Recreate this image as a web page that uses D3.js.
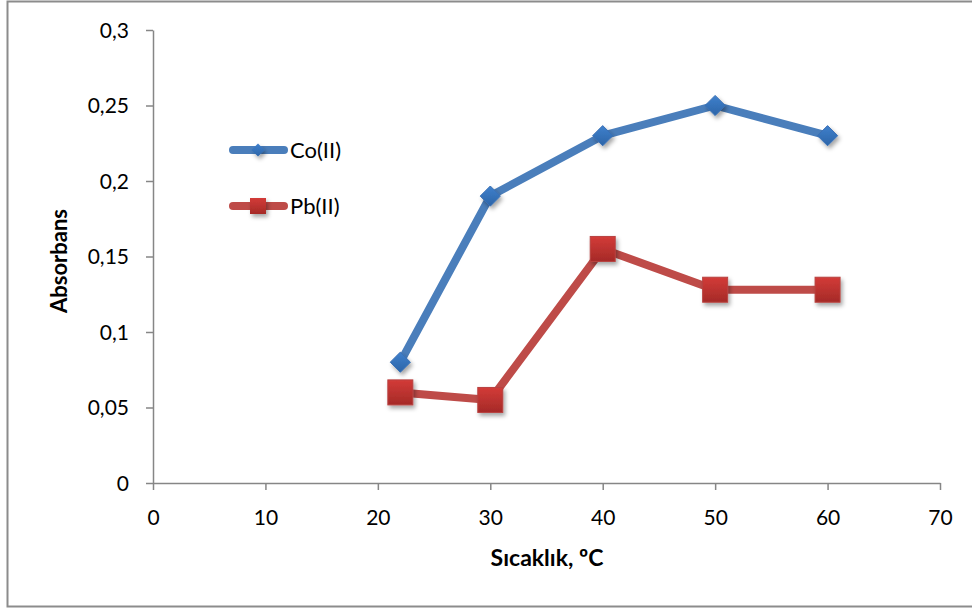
<!DOCTYPE html>
<html><head><meta charset="utf-8">
<script src="https://cdn.jsdelivr.net/npm/d3@7"></script>
<style>body{margin:0;background:#fff}svg{display:block}text{font-family:Lato,"Open Sans",sans-serif;fill:#000}</style>
</head><body><svg id="c" width="972" height="610"></svg>
<script>
const temps = [22, 30, 40, 50, 60];
const coValues = [0.08, 0.19, 0.23, 0.25, 0.23];
const pbValues = [0.06, 0.055, 0.155, 0.128, 0.128];
const xTicks = [0, 10, 20, 30, 40, 50, 60, 70];
const yTicks = [0, 0.05, 0.1, 0.15, 0.2, 0.25, 0.3];
const seriesNames = ["Co(II)", "Pb(II)"];

const svg = d3.select("#c");
const defs = svg.append("defs");
const f = defs.append("filter").attr("id","sh").attr("x","-50%").attr("y","-50%").attr("width","200%").attr("height","200%");
f.append("feDropShadow").attr("dx",2).attr("dy",3).attr("stdDeviation",2).attr("flood-color","#000").attr("flood-opacity",0.35);
const gR = defs.append("linearGradient").attr("id","gr").attr("x1",0).attr("y1",0).attr("x2",0).attr("y2",1);
gR.append("stop").attr("offset","0%").attr("stop-color","#d33b38");
gR.append("stop").attr("offset","100%").attr("stop-color","#a52a27");
const gB = defs.append("linearGradient").attr("id","gb").attr("x1",0).attr("y1",0).attr("x2",0).attr("y2",1);
gB.append("stop").attr("offset","0%").attr("stop-color","#3f80cc");
gB.append("stop").attr("offset","100%").attr("stop-color","#2c65a8");

// outer border
svg.append("rect").attr("x",7.5).attr("y",1.5).attr("width",975).attr("height",605).attr("fill","none").attr("stroke","#8c8c8c").attr("stroke-width",2);

const x = d3.scaleLinear().domain([0,70]).range([153,940]);
const y = d3.scaleLinear().domain([0,0.3]).range([483,30]);
const fmt = d => String(d).replace(".", ",");

const xa = svg.append("g").attr("transform","translate(0,483)")
  .call(d3.axisBottom(x).tickValues(xTicks).tickSize(7).tickSizeOuter(0).tickPadding(20).tickFormat(fmt));
const ya = svg.append("g").attr("transform","translate(153,0)")
  .call(d3.axisLeft(y).tickValues(yTicks).tickSize(7).tickSizeOuter(0).tickPadding(17).tickFormat(fmt));
[xa, ya].forEach(a => {
  a.selectAll("path,line").attr("stroke","#868686").attr("stroke-width",1.5);
  a.selectAll("text").attr("font-size",21).attr("font-family","Lato,'Open Sans',sans-serif").attr("fill","#000");
});
ya.selectAll("text").attr("dy","0.35em");

svg.append("text").attr("x",547).attr("y",566).attr("text-anchor","middle").attr("font-size",23).attr("font-weight","bold").text("Sıcaklık, ºC");
svg.append("text").attr("transform","translate(67,261) rotate(-90)").attr("text-anchor","middle").attr("font-size",22).attr("font-weight","bold").text("Absorbans");

const line = d3.line().x(d => x(d[0])).y(d => y(d[1]));
const coData = temps.map((t,i) => [t, coValues[i]]);
const pbData = temps.map((t,i) => [t, pbValues[i]]);

svg.append("path").datum(coData).attr("d",line).attr("fill","none").attr("stroke","#4a7ebb").attr("stroke-width",8).attr("stroke-linejoin","round").attr("stroke-linecap","round");
svg.append("path").datum(pbData).attr("d",line).attr("fill","none").attr("stroke","#be4b48").attr("stroke-width",8).attr("stroke-linejoin","round").attr("stroke-linecap","round");

const dia = d3.symbol().type(d3.symbolDiamond2).size(260);
svg.append("g").selectAll("path").data(coData).join("path")
  .attr("transform", d => `translate(${x(d[0])},${y(d[1])})`)
  .attr("d", dia).attr("fill","url(#gb)").attr("stroke","#3a70b5").attr("stroke-width",1).attr("filter","url(#sh)");
svg.append("g").selectAll("rect").data(pbData).join("rect")
  .attr("x", d => x(d[0]) - 12.5).attr("y", d => y(d[1]) - 12.5).attr("width",25).attr("height",25)
  .attr("fill","url(#gr)").attr("stroke","#b84240").attr("stroke-width",1).attr("filter","url(#sh)");

// legend
const lg = svg.append("g");
const legY = [150, 206];
const colors = ["#4a7ebb", "#be4b48"];
seriesNames.forEach((n,i) => {
  lg.append("line").attr("x1",233).attr("x2",284).attr("y1",legY[i]).attr("y2",legY[i])
    .attr("stroke",colors[i]).attr("stroke-width",8).attr("stroke-linecap","round");
  if (i === 0) {
    lg.append("path").attr("transform",`translate(258,${legY[i]})`).attr("d", d3.symbol().type(d3.symbolDiamond2).size(110)).attr("fill","url(#gb)").attr("filter","url(#sh)");
  } else {
    lg.append("rect").attr("x",250).attr("y",legY[i]-8).attr("width",16).attr("height",16).attr("fill","url(#gr)").attr("filter","url(#sh)");
  }
  lg.append("text").attr("x",290).attr("y",legY[i]).attr("dy","0.35em").attr("font-size",22).text(n);
});
</script></body></html>
